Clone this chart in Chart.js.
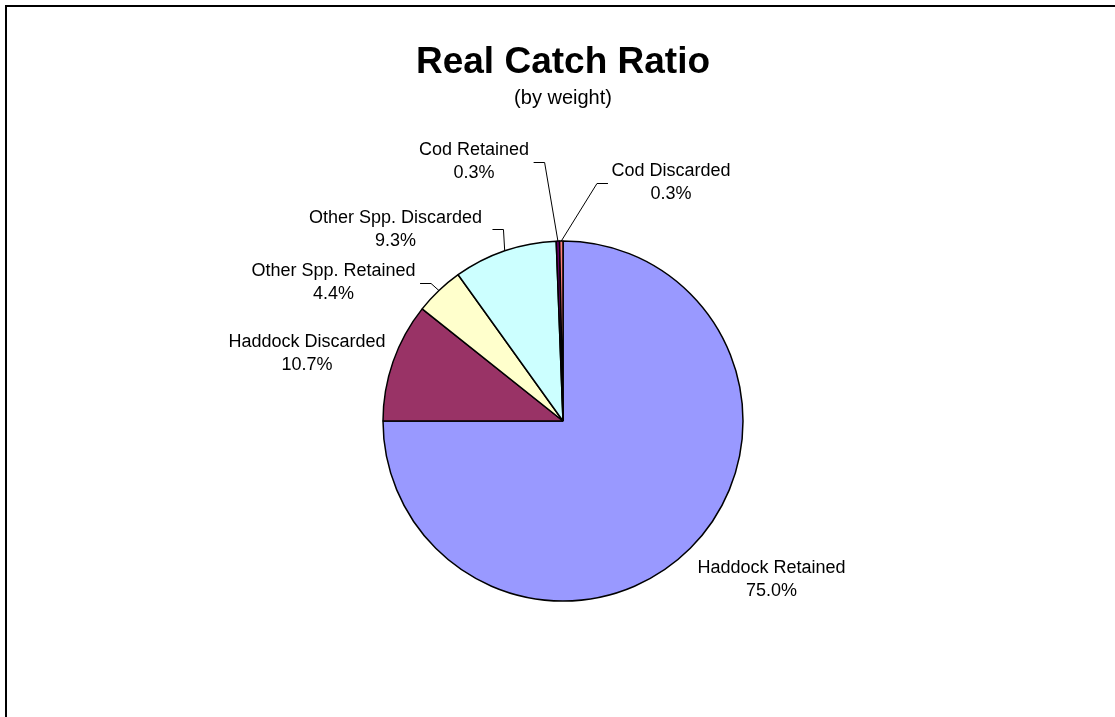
<!DOCTYPE html>
<html>
<head>
<meta charset="utf-8">
<title>Real Catch Ratio</title>
<script src="https://cdn.jsdelivr.net/npm/chart.js@4/dist/chart.umd.min.js"></script>
<style>
	body { margin: 0; background: #fff; }
	canvas { display: block; }
</style>
</head>
<body>
<canvas id="catch-chart" width="1115" height="717"></canvas>
<script>
var categories = ['Haddock Retained', 'Haddock Discarded', 'Other Spp. Retained', 'Other Spp. Discarded', 'Cod Retained', 'Cod Discarded'];
var shares = [75.0, 10.7, 4.4, 9.3, 0.3, 0.3];
var sliceColors = ['#9999FF', '#993366', '#FFFFCC', '#CCFFFF', '#660066', '#FF8080'];

// where each label sits, relative to the pie centre, in units of the radius
var labelSpots = [[1.158, 0.883], [-1.422, -0.375], [-1.275, -0.769], [-0.931, -1.064], [-0.494, -1.439], [0.6, -1.325]];
var hasLeader = [false, false, true, true, true, true];
var leaderGap = [0, 0, 4, 10, 4, 4];

var labelFont = '18px "Liberation Sans", Arial, sans-serif';

var frame = {
	id: 'frame',
	beforeDraw: function (chart) {
		var ctx = chart.ctx;
		ctx.save();
		ctx.strokeStyle = '#000';
		ctx.lineWidth = 2;
		ctx.strokeRect(6, 6, chart.width + 20, chart.height + 20);
		ctx.restore();
	}
};

var sliceLabels = {
	id: 'sliceLabels',
	afterDatasetsDraw: function (chart) {
		var ctx = chart.ctx;
		var meta = chart.getDatasetMeta(0);
		var data = chart.data.datasets[0].data;
		var total = data.reduce(function (a, b) { return a + b; }, 0);

		ctx.save();
		ctx.font = labelFont;
		ctx.fillStyle = '#000';
		ctx.strokeStyle = '#000';
		ctx.lineWidth = 1;
		ctx.textAlign = 'center';
		ctx.textBaseline = 'middle';

		meta.data.forEach(function (arc, i) {
			var r = arc.outerRadius;
			var mid = (arc.startAngle + arc.endAngle) / 2;
			var px = arc.x + Math.cos(mid) * r;
			var py = arc.y + Math.sin(mid) * r;
			var lx = arc.x + labelSpots[i][0] * r;
			var ly = arc.y + labelSpots[i][1] * r;
			var name = chart.data.labels[i];
			var pct = (data[i] / total * 100).toFixed(1) + '%';

			ctx.fillText(name, lx, ly - 11.5);
			ctx.fillText(pct, lx, ly + 11.5);

			if (hasLeader[i]) {
				var half = ctx.measureText(name).width / 2;
				var dir = px > lx ? 1 : -1;
				var sx = lx + dir * (half + leaderGap[i]);
				var ex = sx + dir * 11;
				ctx.beginPath();
				ctx.moveTo(sx + 0.5, Math.round(ly) + 0.5);
				ctx.lineTo(ex + 0.5, Math.round(ly) + 0.5);
				ctx.lineTo(px, py);
				ctx.stroke();
			}
		});
		ctx.restore();
	}
};

new Chart('catch-chart', {
	type: 'pie',
	data: {
		labels: categories,
		datasets: [
			{
				data: shares,
				backgroundColor: sliceColors,
				borderColor: '#000',
				borderWidth: 1.5
			}
		]
	},
	options: {
		responsive: false,
		devicePixelRatio: 1,
		animation: false,
		events: [],
		radius: 180,
		layout: {
			padding: { top: 41, bottom: 1.4, left: 16, right: 5 }
		},
		plugins: {
			legend: { display: false },
			tooltip: { enabled: false },
			title: {
				display: true,
				text: 'Real Catch Ratio',
				color: '#000',
				font: { family: '"Liberation Sans", Arial, sans-serif', size: 37, weight: 'bold' },
				padding: { top: 0, bottom: 0 }
			},
			subtitle: {
				display: true,
				text: '(by weight)',
				color: '#000',
				font: { family: '"Liberation Sans", Arial, sans-serif', size: 20 },
				padding: { top: 1, bottom: 16 }
			}
		}
	},
	plugins: [frame, sliceLabels]
});
</script>
</body>
</html>
